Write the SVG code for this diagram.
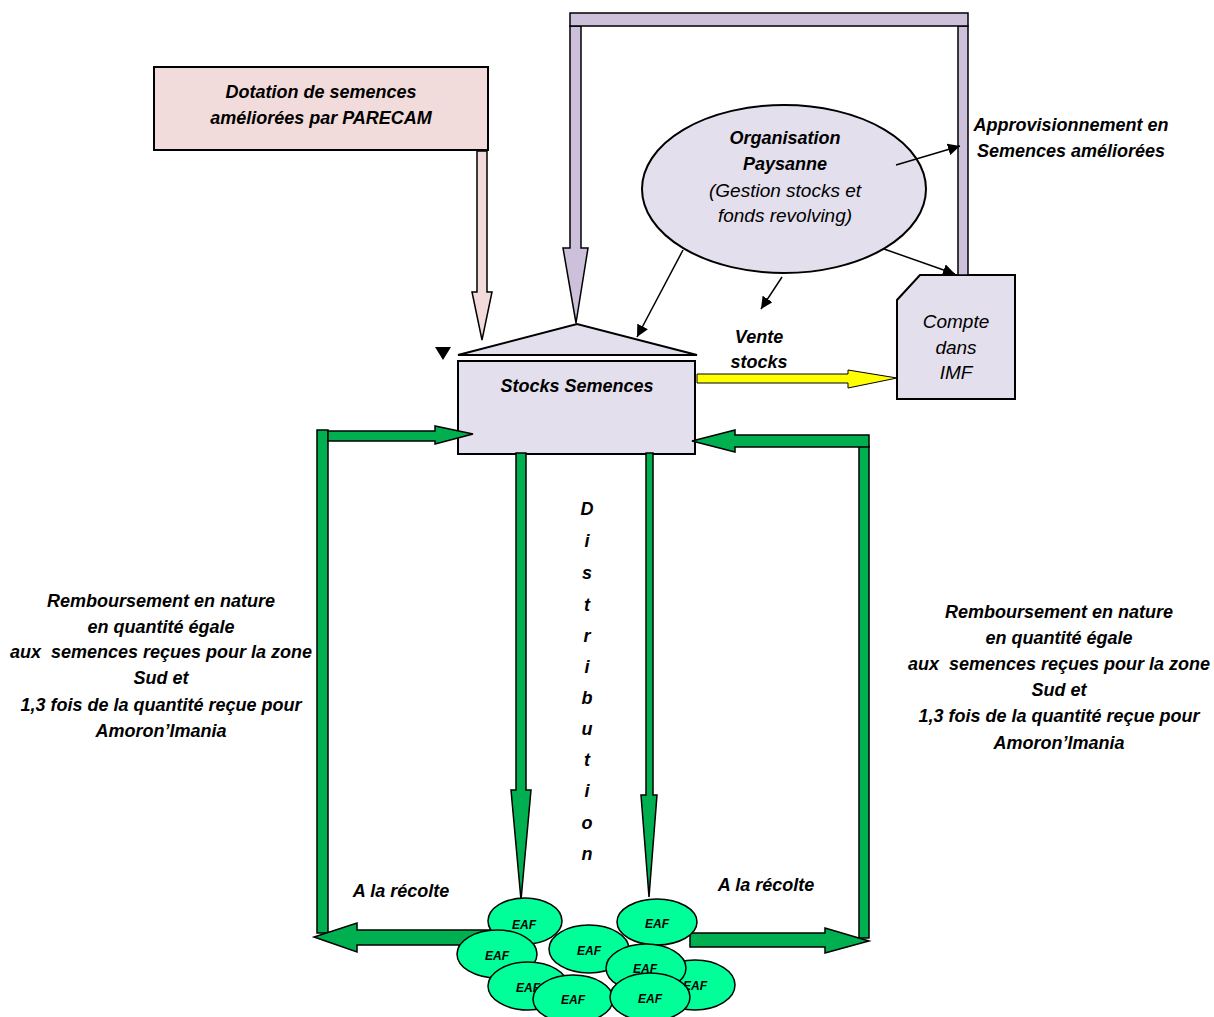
<svg xmlns="http://www.w3.org/2000/svg" width="1214" height="1017" viewBox="0 0 1214 1017">
<style>
text{font-family:"Liberation Sans",Arial,sans-serif;font-style:italic;fill:#000;text-anchor:middle}
.b{font-weight:bold}
.t18{font-size:18px}
.t19{font-size:19px}
.lav{fill:#e4dfec;stroke:#000;stroke-width:2}
.pur{fill:#ccc0da;stroke:#000;stroke-width:1.5}
.grn{fill:#00b050;stroke:#000;stroke-width:1.5}
.eaf{fill:#00ff99;stroke:#000;stroke-width:1.5}
.eaft{font-size:12px;font-weight:bold}
.ln{stroke:#000;stroke-width:1.5;fill:none;marker-end:url(#ah)}
</style>
<defs>
<marker id="ah" viewBox="0 0 10 10" refX="10" refY="5" markerWidth="12" markerHeight="12" markerUnits="userSpaceOnUse" orient="auto"><path d="M0,0 L10,5 L0,10 z" fill="#000"/></marker>
</defs>
<rect width="1214" height="1017" fill="#fff"/>

<g id="dotation">
  <rect x="154" y="67" width="334" height="83" fill="#f2dcdb" stroke="#000" stroke-width="2"/>
  <text class="b t18" x="321" y="98">Dotation de semences</text>
  <text class="b t18" x="321" y="124">améliorées par PARECAM</text>
</g>

<g id="stocks">
  <polygon class="lav" points="458,355 577,324 697,355"/>
  <rect class="lav" x="458" y="361" width="237" height="93"/>
  <text class="b t18" x="577" y="392">Stocks Semences</text>
</g>

<g id="organisation">
  <ellipse class="lav" cx="784" cy="189" rx="142" ry="84"/>
  <text class="b t18" x="785" y="144">Organisation</text>
  <text class="b t18" x="785" y="170">Paysanne</text>
  <text class="t19" x="785" y="197">(Gestion stocks et</text>
  <text class="t19" x="785" y="222">fonds revolving)</text>
</g>

<g id="compte">
  <polygon class="lav" points="920,275 1015,275 1015,399 897,399 897,300"/>
  <text class="t19" x="956" y="328">Compte</text>
  <text class="t19" x="956" y="354">dans</text>
  <text class="t19" x="956" y="379">IMF</text>
</g>

<g id="connectors">
  <polygon class="pur" points="570,26 581,26 581,248 588,248 576,323 563,248 570,248"/>
  <rect class="pur" x="958" y="26" width="10" height="249"/>
  <rect class="pur" x="570" y="13" width="398" height="13"/>
  <polygon points="477,151 487,151 487,292 492,292 482,340 472,292 477,292" fill="#f2dcdb" stroke="#000" stroke-width="1.5"/>
  <polygon points="697,374 848,374 848,370 897,378 848,388 848,383 697,383" fill="#ffff00" stroke="#000" stroke-width="1"/>
  <line class="ln" x1="896" y1="165" x2="960" y2="146"/>
  <line class="ln" x1="884" y1="249" x2="955" y2="274"/>
  <line class="ln" x1="683" y1="250" x2="637" y2="337"/>
  <line class="ln" x1="782" y1="277" x2="761" y2="309"/>
  <polygon points="435,347 451,347 443,360" fill="#000"/>
  <rect class="grn" x="317" y="430" width="11" height="503"/>
  <polygon class="grn" points="328,431 435,431 435,426 473,434 435,444 435,441 328,441"/>
  <polygon class="grn" points="490,930 357,930 357,923 314,937 357,952 357,945 490,945"/>
  <rect class="grn" x="859" y="446" width="10" height="492"/>
  <polygon class="grn" points="869,435 735,435 735,430 692,441 735,452 735,447 869,447"/>
  <polygon class="grn" points="690,933 825,933 825,928 869,941 825,953 825,947 690,947"/>
  <polygon class="grn" points="516,453 526,453 526,790 531,790 521,900 511,790 516,790"/>
  <polygon class="grn" points="646,453 653,453 653,795 657,795 649,897 641,795 646,795"/>
</g>

<g id="labels">
  <text class="b t18" x="759" y="343">Vente</text>
  <text class="b t18" x="759" y="368">stocks</text>
  <text class="b t18" x="1071" y="131">Approvisionnement en</text>
  <text class="b t18" x="1071" y="157">Semences améliorées</text>
  <text class="b t18" x="401" y="897">A la récolte</text>
  <text class="b t18" x="766" y="891">A la récolte</text>
  <g class="b t18">
    <text x="161" y="607">Remboursement en nature</text>
    <text x="161" y="633">en quantité égale</text>
    <text x="161" y="658" xml:space="preserve">aux  semences reçues pour la zone</text>
    <text x="161" y="684">Sud et</text>
    <text x="161" y="711">1,3 fois de la quantité reçue pour</text>
    <text x="161" y="737">Amoron’Imania</text>
    <text x="1059" y="618">Remboursement en nature</text>
    <text x="1059" y="644">en quantité égale</text>
    <text x="1059" y="670" xml:space="preserve">aux  semences reçues pour la zone</text>
    <text x="1059" y="696">Sud et</text>
    <text x="1059" y="722">1,3 fois de la quantité reçue pour</text>
    <text x="1059" y="749">Amoron’Imania</text>
  </g>
  <g class="b t18">
    <text x="587" y="515">D</text>
    <text x="587" y="547">i</text>
    <text x="587" y="579">s</text>
    <text x="587" y="611">t</text>
    <text x="587" y="642">r</text>
    <text x="587" y="673">i</text>
    <text x="587" y="704">b</text>
    <text x="587" y="735">u</text>
    <text x="587" y="766">t</text>
    <text x="587" y="797">i</text>
    <text x="587" y="829">o</text>
    <text x="587" y="860">n</text>
  </g>
</g>

<g id="eaf1"><ellipse class="eaf" cx="525" cy="921" rx="37" ry="23"/><text class="eaft" x="524" y="929">EAF</text></g>
<g id="eaf2"><ellipse class="eaf" cx="497" cy="954" rx="40" ry="24"/><text class="eaft" x="497" y="960">EAF</text></g>
<g id="eaf3"><ellipse class="eaf" cx="589" cy="949" rx="40" ry="24"/><text class="eaft" x="589" y="955">EAF</text></g>
<g id="eaf4"><ellipse class="eaf" cx="657" cy="922" rx="40" ry="23"/><text class="eaft" x="657" y="928">EAF</text></g>
<g id="eaf6"><ellipse class="eaf" cx="695" cy="985" rx="40" ry="25"/><text class="eaft" x="695" y="990">EAF</text></g>
<g id="eaf5"><ellipse class="eaf" cx="646" cy="968" rx="40" ry="24"/><text class="eaft" x="645" y="973">EAF</text></g>
<g id="eaf7"><ellipse class="eaf" cx="528" cy="986" rx="40" ry="24"/><text class="eaft" x="528" y="992">EAF</text></g>
<g id="eaf8"><ellipse class="eaf" cx="573" cy="999" rx="40" ry="24"/><text class="eaft" x="573" y="1004">EAF</text></g>
<g id="eaf9"><ellipse class="eaf" cx="650" cy="997" rx="40" ry="24"/><text class="eaft" x="650" y="1003">EAF</text></g>
</svg>
